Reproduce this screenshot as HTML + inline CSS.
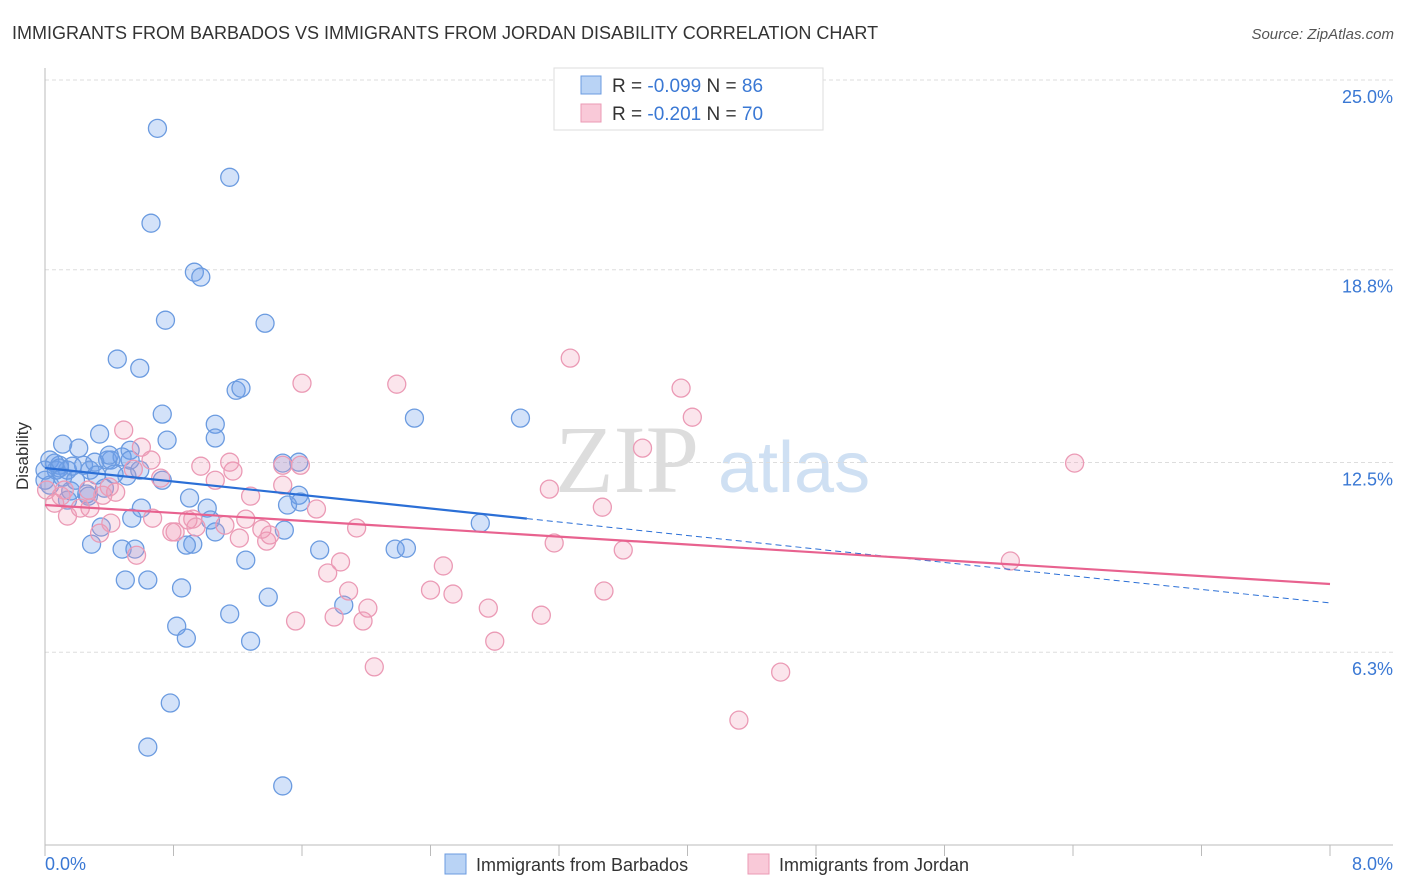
<!DOCTYPE html>
<html><head><meta charset="utf-8"><style>
body{margin:0;background:#fff;font-family:"Liberation Sans",sans-serif;}
svg{display:block}
</style></head><body>
<svg id="chart" width="1406" height="892">
<text x="12" y="39" font-size="18" fill="#333">IMMIGRANTS FROM BARBADOS VS IMMIGRANTS FROM JORDAN DISABILITY CORRELATION CHART</text>
<text x="1394" y="39" font-size="15" fill="#555" font-style="italic" text-anchor="end">Source: ZipAtlas.com</text>
<g>
<text x="555" y="492" font-size="96" fill="#ddd" font-family="Liberation Serif,serif">ZIP</text>
<text x="718" y="492" font-size="72" fill="#cfe0f3">atlas</text>
</g>
<g id="grid"></g>
<g id="axes"></g>
<g id="points"></g>
<g id="trends"></g>
<text x="28" y="456" font-size="17" fill="#333" transform="rotate(-90 28 456)" text-anchor="middle">Disability</text>
<text x="45" y="870" font-size="18" fill="#3a78d4">0.0%</text>
<text x="1393" y="870" font-size="18" fill="#3a78d4" text-anchor="end">8.0%</text>
<g>
<rect x="554" y="68" width="269" height="62" fill="#fff" stroke="#ddd"/>
<rect x="581" y="76" width="20" height="18" fill="#b9d3f5" stroke="#6b9be0"/>
<text x="612" y="92" font-size="19" fill="#333">R = <tspan fill="#3a78d4">-0.099</tspan>   N = <tspan fill="#3a78d4">86</tspan></text>
<rect x="581" y="104" width="20" height="18" fill="#f9c9d8" stroke="#eb9ab5"/>
<text x="612" y="120" font-size="19" fill="#333">R =  <tspan fill="#3a78d4">-0.201</tspan>   N = <tspan fill="#3a78d4">70</tspan></text>
</g>
<g>
<rect x="445" y="854" width="21" height="20" fill="#b9d3f5" stroke="#6b9be0"/>
<text x="476" y="871" font-size="18" fill="#333">Immigrants from Barbados</text>
<rect x="748" y="854" width="21" height="20" fill="#f9c9d8" stroke="#eb9ab5"/>
<text x="779" y="871" font-size="18" fill="#333">Immigrants from Jordan</text>
</g>
</svg>
<script>
const yTicks=[25.0,18.8,12.5,6.3];
const yTickLabels=["25.0%","18.8%","12.5%","6.3%"];
const xTickCount=10;
const barbadosX=[0.70,1.15,0.66,0.93,0.97,0.75,1.37,0.45,0.59,1.19,1.22,0.73,2.30,2.96,0.34,1.06,0.76,1.06,0.11,0.21,0.03,0.09,0.07,0.14,0.24,0.28,0.31,0.39,0.41,0.48,0.53,0.59,0.51,0.37,0.26,0.16,0.27,0.03,0.73,0.90,1.01,0.60,0.54,0.35,0.29,0.48,0.56,0.92,0.88,1.06,1.25,1.03,1.58,1.59,1.51,1.49,1.71,2.18,2.25,2.71,1.48,1.58,0.50,0.64,0.85,1.39,1.86,0.82,0.88,1.15,1.28,0.78,0.64,1.48,0.06,0.09,0.43,0.19,0.11,0.17,0.00,0.32,0.40,0.53,0.14,0.00];
const barbadosY=[23.42,21.82,20.32,18.72,18.56,17.15,17.05,15.88,15.58,14.86,14.93,14.08,13.95,13.95,13.43,13.75,13.23,13.30,13.10,12.97,12.58,12.41,12.25,12.25,12.41,12.25,12.51,12.58,12.58,12.68,12.90,12.25,12.06,11.66,11.47,11.57,11.40,11.76,11.92,11.34,11.01,11.01,10.68,10.39,9.83,9.67,9.67,9.83,9.80,10.23,9.31,10.62,11.43,11.21,11.11,10.29,9.64,9.67,9.70,10.52,12.48,12.51,8.66,8.66,8.40,8.10,7.84,7.15,6.76,7.55,6.66,4.64,3.20,1.93,12.48,12.32,12.12,11.92,12.02,12.38,11.92,12.09,12.74,12.58,11.27,12.25];
const jordanX=[3.27,2.19,1.60,3.96,4.03,3.72,6.41,3.14,3.47,0.49,0.60,0.66,0.72,0.55,0.97,1.17,1.15,1.48,1.06,1.48,1.28,1.12,0.92,0.89,0.94,0.79,0.81,0.67,0.41,0.34,0.28,0.22,0.14,0.06,0.12,0.44,0.27,0.10,0.36,1.21,1.38,1.35,1.40,1.25,1.69,1.94,3.17,3.60,1.84,1.76,2.48,2.40,2.54,1.89,2.01,1.98,1.80,1.56,2.76,3.09,3.48,2.80,2.05,4.58,4.32,6.01,0.57,0.40,0.01,1.59];
const jordanY=[15.91,15.06,15.09,14.93,13.98,12.97,12.48,11.63,11.04,13.56,13.00,12.58,11.99,12.28,12.38,12.22,12.51,12.41,11.92,11.76,11.40,10.45,10.65,10.62,10.39,10.23,10.23,10.68,10.52,10.19,11.01,11.01,10.75,11.17,11.60,11.53,11.60,11.40,11.43,10.03,9.93,10.32,10.13,10.65,10.98,10.36,9.87,9.64,9.25,8.89,9.12,8.33,8.20,8.30,7.74,7.32,7.45,7.32,7.74,7.51,8.30,6.66,5.82,5.65,4.08,9.28,9.47,11.70,11.60,12.41];
const barbadosTrend=[12.32,7.91]; const barbadosSolidEnd=3.0;
const jordanTrend=[11.11,8.53];
const X0=45,X1=1330,Y0=845,YTOP=80;
const sx=v=>X0+(v/8)*(X1-X0);
const sy=v=>Y0-(v/25)*(Y0-YTOP);
const NS="http://www.w3.org/2000/svg";
function mk(tag,attrs,parent){const e=document.createElementNS(NS,tag);for(const k in attrs)e.setAttribute(k,attrs[k]);parent.appendChild(e);return e;}
const grid=document.getElementById('grid'),axes=document.getElementById('axes'),pts=document.getElementById('points'),tr=document.getElementById('trends');
yTicks.forEach((t,i)=>{
 const l=mk('line',{x1:X0,x2:1393,y1:sy(t),y2:sy(t),stroke:'#ddd','stroke-dasharray':'4,3'},grid);
 
 
 const tx=mk('text',{x:1393,y:sy(t)+23,'font-size':18,fill:'#3a78d4','text-anchor':'end'},grid);
 tx.textContent=yTickLabels[i];
 
 
});
let a=mk('line',{x1:X0,x2:X0,y1:68,y2:Y0,stroke:'#bbb'},axes);


a=mk('line',{x1:X0,x2:1393,y1:Y0,y2:Y0,stroke:'#bbb'},axes);


for(let i=0;i<=xTickCount;i++){
 const x=sx(8*i/xTickCount);
 const t=mk('line',{x1:x,x2:x,y1:Y0,y2:Y0+11,stroke:'#bbb'},axes);
 
 
}
function dots(xs,ys,fill,stroke,name){
 xs.forEach((v,i)=>{
  const c=mk('circle',{cx:sx(v),cy:sy(ys[i]),r:9,fill:fill,stroke:stroke,'stroke-width':1.3},pts);
  
  
 });
}
dots(barbadosX,barbadosY,'rgba(110,160,235,0.3)','#6b9be0','barbados-point');
dots(jordanX,jordanY,'rgba(240,150,180,0.25)','#eb9ab5','jordan-point');
const lerp=(tr,x)=>tr[0]+(tr[1]-tr[0])*x/8;
let l=mk('line',{x1:sx(0),y1:sy(barbadosTrend[0]),x2:sx(barbadosSolidEnd),y2:sy(lerp(barbadosTrend,barbadosSolidEnd)),stroke:'#2b6fd6','stroke-width':2.2},tr);


l=mk('line',{x1:sx(barbadosSolidEnd),y1:sy(lerp(barbadosTrend,barbadosSolidEnd)),x2:sx(8),y2:sy(barbadosTrend[1]),stroke:'#2b6fd6','stroke-width':1,'stroke-dasharray':'6,4'},tr);


l=mk('line',{x1:sx(0),y1:sy(jordanTrend[0]),x2:sx(8),y2:sy(jordanTrend[1]),stroke:'#e8628f','stroke-width':2.2},tr);


</script>
</body></html>
